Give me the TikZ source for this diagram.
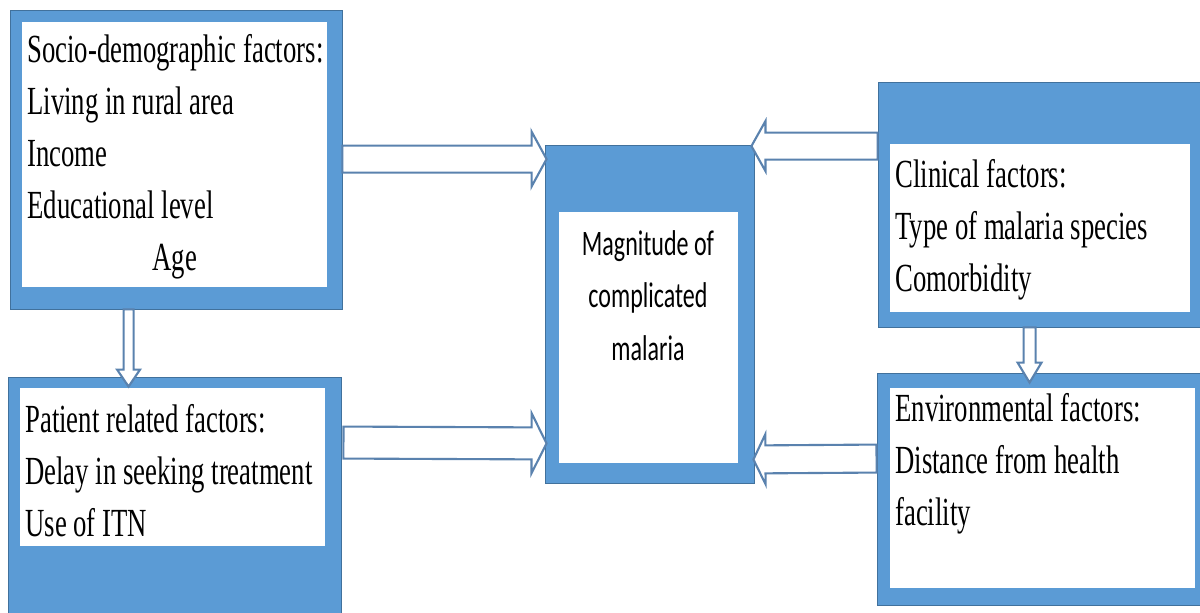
\documentclass[tikz,border=0pt]{standalone}
\usepackage{fontspec}
\usepackage{graphicx}
\usepackage{tikz}
\usetikzlibrary{
    positioning,
    fit,
    calc
}
\newfontfamily\boxfont{Liberation Serif}
\newfontfamily\centerfont{Carlito}
% texto estrecho, como en la figura original
\newcommand{\squeezed}[1]{%
    \scalebox{0.67}[1]{\parbox[t]{11cm}{\raggedright
        \boxfont\fontsize{22.7}{29.6}\selectfont #1}}}
\newcommand{\squeezedc}[1]{%
    \scalebox{0.67}[1]{\parbox[t]{5.4cm}{\centering
        \centerfont\fontsize{20.4}{30}\selectfont #1}}}
\definecolor{frameblue}{HTML}{5B9BD5}
\definecolor{frameline}{HTML}{41719C}
\definecolor{arrowline}{HTML}{5A82AE}
\tikzset{
    outerframe/.style={
        fill=frameblue,
        draw=frameline,
        line width=0.5pt,
        inner sep=0pt
    },
    pane/.style={
        fill=white,
        inner sep=0pt
    },
    factors/.style={
        anchor=base west,
        inner sep=0pt
    },
    hollow arrow/.style={
        draw=arrowline,
        fill=white,
        line width=1.2pt,
        line join=miter
    }
}
% cola, punta, medio cuerpo, media cabeza, largo de cabeza
\newcommand{\blockarrow}[5]{%
    \coordinate (hb) at ($(#2)!#5!(#1)$);
    \draw[hollow arrow]
        ($(#1)!#3!90:(#2)$) -- ($(hb)!#3!90:(#2)$) -- ($(hb)!#4!90:(#2)$)
        -- (#2) -- ($(hb)!#4!-90:(#2)$) -- ($(hb)!#3!-90:(#2)$)
        -- ($(#1)!#3!-90:(#2)$) -- cycle;
}

\begin{document}
\begin{tikzpicture}[
    x=0.02cm,
    y=-0.02cm
]
    \useasboundingbox (0,0) rectangle (1200,612);

    % Marcos
    \node[outerframe, fit={(10,10) (342,309)}]   (socF) {};
    \node[outerframe, fit={(8,377) (341,616)}]   (patF) {};
    \node[outerframe, fit={(545,145) (754,483)}] (cenF) {};
    \node[outerframe, fit={(878,82) (1203,327)}] (cliF) {};
    \node[outerframe, fit={(877,373) (1203,605)}] (envF) {};

    \node[pane, fit={(22,22) (327,287)}]    (socW) {};
    \node[pane, fit={(20,388) (325,546)}]   (patW) {};
    \node[pane, fit={(559,212) (738,463)}]  (cenW) {};
    \node[pane, fit={(890,144) (1190,312)}] (cliW) {};
    \node[pane, fit={(890,388) (1195,588)}] (envW) {};

    % Flechas
    \coordinate (a1t) at ($(socF.north east)+(0,149.5)$);
    \coordinate (a1h) at ($(cenF.north west)+(2,14.5)$);
    \blockarrow{a1t}{a1h}{0.27cm}{0.55cm}{0.3cm}

    \coordinate (a2t) at ($(patF.north east)+(2,66)$);
    \coordinate (a2h) at ($(cenF.south west)+(2,-40)$);
    \blockarrow{a2t}{a2h}{0.32cm}{0.6cm}{0.3cm}

    \coordinate (a3t) at ($(cliF.north west)+(0,64.5)$);
    \coordinate (a3h) at ($(cenF.north east)+(-3,1.5)$);
    \blockarrow{a3t}{a3h}{0.27cm}{0.5cm}{0.28cm}

    \coordinate (a4t) at ($(envF.north west)+(0,86)$);
    \coordinate (a4h) at ($(cenF.south east)+(-1,-24)$);
    \blockarrow{a4t}{a4h}{0.28cm}{0.5cm}{0.24cm}

    \coordinate (d1t) at ($(socF.south west)+(119,0)$);
    \coordinate (d1h) at ($(patF.north west)+(121,10)$);
    \blockarrow{d1t}{d1h}{0.1cm}{0.23cm}{0.34cm}

    \coordinate (d2t) at ($(cliF.south west)+(152,0)$);
    \coordinate (d2h) at ($(envF.north west)+(153,10)$);
    \blockarrow{d2t}{d2h}{0.12cm}{0.24cm}{0.4cm}

    % Textos
    \node[factors] (socT) at (27,62)
        {\squeezed{Socio-demographic factors:\\ Living in rural area\\ Income\\
         Educational level\par\makebox[8.8cm]{Age}}};
    \node[factors] (patT) at (25,432)
        {\squeezed{Patient related factors:\\ Delay in seeking treatment\\ Use of ITN}};
    \node[factors] (cliT) at (895,187)
        {\squeezed{Clinical factors:\\ Type of malaria species\\ Comorbidity}};
    \node[factors] (envT) at (895,421)
        {\squeezed{Environmental factors:\\ Distance from health\\ facility}};

    \node[anchor=base, inner sep=0pt] (cenT) at (648,255)
        {\squeezedc{Magnitude of\\ complicated\\ malaria}};

\end{tikzpicture}
\end{document}
